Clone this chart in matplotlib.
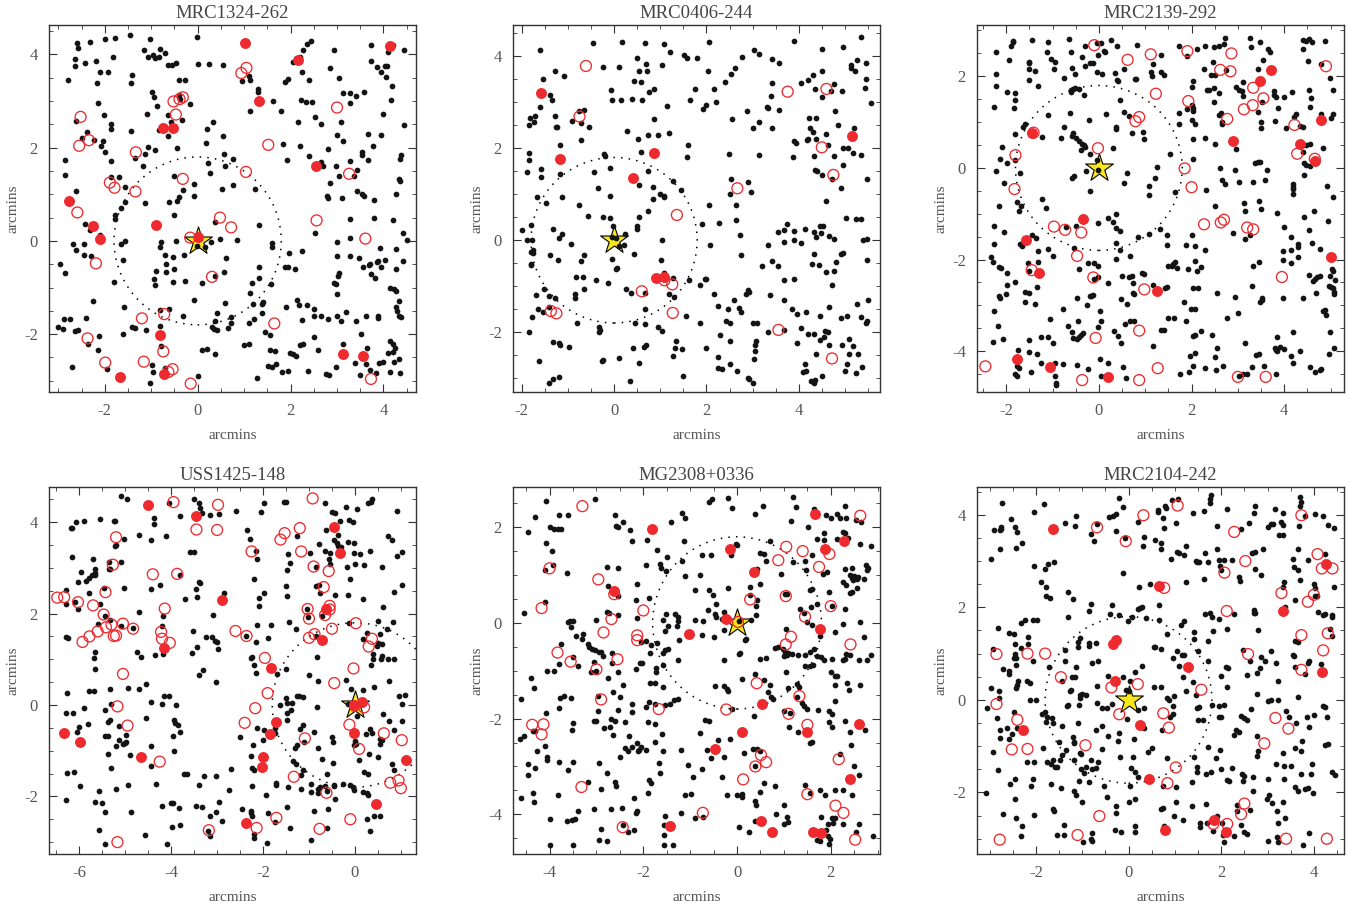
import matplotlib
matplotlib.use("Agg")
import matplotlib.pyplot as plt
from matplotlib.ticker import MultipleLocator

plt.rcParams['font.family'] = ['Liberation Serif', 'DejaVu Serif']
plt.rcParams['axes.unicode_minus'] = False

# values, in arcmins
names = ['MRC1324-262', 'MRC0406-244', 'MRC2139-292', 'USS1425-148', 'MG2308+0336', 'MRC2104-242']

p1_black = [(-2.6,4.25),(-2.57,4.14),(-2.32,4.27),(-1.99,4.32),(-1.78,4.36),(-1.45,4.42),(-1.03,4.32),(-0.02,4.38),
 (-2.64,3.91),(-2.63,3.75),(-2.42,3.82),(-2.19,3.85),(-1.83,3.95),(-1.16,4.1),(-0.8,4.11),(-0.7,4.04),(-1.06,3.94),(-0.97,3.98),(-0.92,3.93),(-0.84,3.94),
 (-0.64,3.78),(-0.55,3.77),(-0.47,3.81),(0,3.8),(0.25,3.79),(0.55,3.77),(-2.1,3.62),(-1.93,3.63),(-2.79,3.46),(-2.16,3.39),(-1.41,3.56),(-1.43,3.39),(-0.4,3.46),(-0.27,3.46),
 (-0.98,3.2),(-0.95,3.09),(-2.15,2.96),(-0.87,2.89),(-0.4,3.13),(-0.38,3.04),(-0.16,2.94),(-2.02,2.7),(-1.08,2.73),(-0.63,2.71),(-0.34,2.59),(-0.57,2.56),(0.34,2.56),(-1.86,2.51),(-1.86,2.41),(-2.62,2.58),
 (-1.44,2.36),(-0.83,2.38),(-0.64,2.24),(0.2,2.4),(0.54,2.26),(0.17,2.11),(-2.39,2.34),(-2.48,2.21),(-2.24,2.16),(-2.04,2.15),(-2.07,2.04),(-2.0,1.91),(-1.06,2.01),(-1.13,1.86),(-0.92,1.94),(-0.45,1.99),
 (-1.35,1.77),(-2.85,1.73),(-1.86,1.71),(-1.18,1.61),(0.23,1.66),(0.57,1.86),(0.75,1.75),(0.59,1.6),(0.27,1.46),(-2.85,1.41),(-1.86,1.38),(-1.7,1.37),(-0.5,1.39),(-0.08,1.23),(-0.31,1.1),(-1.57,1.15),
 (-2.61,1.06),(0.53,1.11),(0.75,1.19),(1.23,1.11),(-0.08,0.96),(-0.4,0.94),(-0.45,0.86),(-0.62,0.84),(-1.56,0.84),(-1.13,0.81),(-1.64,0.7),(-1.78,0.55),(-1.78,0.46),(-0.5,0.56),(0.37,0.4),(1.33,0.34),
 (-2.42,0.36),(-2.31,0.24),(-2.1,0.12),(-0.79,-0.03),(-0.46,0.0),(-1.66,-0.07),(-1.57,0.0),(-2.69,-0.07),(-2.62,-0.19),(-2.44,-0.07),(-2.45,-0.3),(-2.29,-0.32),(-0.8,-0.14),(-0.7,-0.3),(-0.53,-0.34),(-0.3,-0.3),
 (-0.02,-0.1),(0.15,-0.13),(0.29,-0.02),(0.48,0.04),(0.85,0.01),(0.62,-0.36),(1.61,-0.05),(1.61,-0.14),(1.96,-0.26),(2.24,-0.22),(-1.6,-0.42),(-0.68,-0.49),(-2.97,-0.5),(-2.86,-0.69),(-0.9,-0.64),(-0.68,-0.66),(-0.52,-0.61),
 (0.57,-0.67),(0.38,-0.75),(1.31,-0.57),(1.89,-0.56),(2.09,-0.61),(-0.93,-0.81),(-0.91,-0.94),(-1.8,-0.89),(-0.54,-0.89),(-0.27,-0.87),(0.1,-0.91),(1.32,-0.79),(1.18,-0.9),(1.57,-0.93),(1.13,-1.11),(-2.25,-1.29),
 (-0.08,-1.27),(-1.58,-1.41),(0.58,-1.34),(1.41,-1.3),(1.2,-1.36),(1.39,-1.35),(2.13,-1.26),(2.18,-1.37),(2.36,-1.38),(1.9,-1.41),(-0.81,-1.49),(-0.61,-1.45),(-0.31,-1.62),(0.42,-1.55),(1.39,-1.55),(2.5,-1.46),
 (-2.4,-1.66),(-2.87,-1.67),(-2.74,-1.67),(0.72,-1.63),(1.21,-1.68),(2.24,-1.69),(2.5,-1.62),(2.66,-1.62),(2.81,-1.67),(3.0,-1.6),(3.08,-1.71),(3.2,-1.53),(3.4,-1.72),(3.62,-1.6),(3.89,-1.65),(3.89,-1.6),
 (0.37,-1.72),(0.72,-1.76),(1.1,-1.75),(0.66,-1.87),(0.3,-1.85),(0.35,-1.89),(0.42,-1.92),(-3.01,-1.84),(-2.9,-1.88),(-2.63,-1.93),(-2.57,-1.91),(-1.41,-1.85),(-1.35,-1.87),(-1.11,-1.9),(-0.81,-1.83),(-1.61,-2.0),
 (-2.13,-2.03),(1.46,-1.96),(1.55,-2.02),(2.5,-2.07),(3.51,-2.0),(-2.36,-2.21),(-2.15,-2.34),(-0.78,-2.25),(0.1,-2.33),(0.2,-2.31),(1.0,-2.23),(1.1,-2.2),(0.38,-2.43),(1.55,-2.33),(1.67,-2.36),(2.2,-2.23),(2.26,-2.22),
 (2.59,-2.35),(1.98,-2.41),(2.05,-2.43),(2.12,-2.47),(3.12,-2.22),(3.65,-2.3),(4.14,-2.14),(4.2,-2.21),(4.25,-2.3),(4.2,-2.38),(4.1,-2.4),(3.39,-2.62),(3.63,-2.63),(3.9,-2.62),(3.98,-2.6),(4.22,-2.6),(4.34,-2.53),
 (-0.98,-2.66),(-2.7,-2.71),(-1.95,-2.74),(-0.97,-2.82),(-0.7,-2.73),(-1.02,-3.05),(0,-2.9),(1.52,-2.69),(1.6,-2.7),(1.68,-2.65),(1.81,-2.81),(1.95,-2.78),(2.38,-2.8),(1.27,-2.94),(2.77,-2.85),(2.82,-2.88),
 (2.98,-2.7),(3.5,-2.88),(3.72,-2.77),(3.83,-2.83),(4.15,-2.82),(4.35,-2.83),(1.94,-0.56),(4.15,-1.0),(4.22,-1.04),(4.28,-1.08),(4.34,-1.28),(4.27,-1.41),(4.3,-1.5),(4.33,-1.6),(4.37,-1.63),(4.28,-0.61),(4.43,-0.44),
 (2.94,-0.9),(2.98,-0.93),(3.0,-1.14),(3.03,-0.75),(3.05,-0.68),(3.0,-0.33),(3.28,-0.33),(3.47,-0.37),(3.56,-0.56),(3.68,-0.51),(3.71,-0.49),(3.73,-0.72),(3.82,-0.79),(3.85,-0.46),(3.89,-0.43),(3.95,-0.55),(4.03,-0.41),
 (3.93,-0.15),(4.27,-0.18),(3.0,-0.03),(3.27,0.06),(2.52,0.18),(3.27,0.48),(3.8,0.49),(4.21,0.44),(4.42,0.16),(4.51,0.02),(2.79,0.96),(2.8,0.92),(3.1,0.92),(3.42,1.06),(3.53,1.0),(3.57,0.96),(3.8,0.88),(4.27,1.0),
 (2.85,1.25),(4.33,1.32),(4.35,1.28),(2.97,1.6),(3.05,1.39),(3.37,1.4),(3.42,1.51),(2.66,1.69),(2.7,1.6),(3.27,1.72),(3.66,1.74),(4.38,1.84),(4.36,1.75),(2.81,1.98),(3.53,1.9),(3.54,1.85),(3.77,2.04),(2.4,1.83),(1.93,1.73),
 (1.84,2.07),(2.2,2.03),(3.0,2.27),(3.13,2.15),(3.67,2.29),(3.95,2.28),(4.44,2.49),(2.15,2.55),(2.66,2.5),(3.09,2.55),(2.52,2.66),(4.0,2.72),(1.8,2.78),(3.27,2.96),(4.16,3.03),(2.22,3.03),(2.33,2.97),(2.47,2.97),(1.63,3.0),
 (1.12,2.78),(1.3,2.98),(1.29,3.2),(1.3,3.25),(3.12,3.17),(3.27,3.17),(3.4,3.11),(3.57,3.2),(4.18,3.33),(1.87,3.4),(1.95,3.47),(2.4,3.45),(1.1,3.53),(1.13,3.46),(0.95,3.43),(3.04,3.49),(2.24,3.62),(2.85,3.71),(3.74,3.85),(3.87,3.74),
 (4.04,3.76),(4.08,3.75),(3.95,3.63),(4.06,3.52),(2.05,3.84),(2.2,3.95),(2.27,4.1),(2.35,4.22),(2.45,4.28),(2.93,4.1),(3.73,4.21),(4.1,4.05),(4.2,4.2),(4.44,4.1)]
p1_open = [(-2.52,2.66),(-2.34,2.16),(-2.55,2.04),(-1.33,1.9),(-1.89,1.25),(-1.79,1.14),(-1.34,1.06),(-2.59,0.61),(-2.19,-0.48),(-1.2,-1.66),(-0.72,-1.57),(-2.37,-2.09),(-1.99,-2.61),(-1.16,-2.59),(-0.74,-2.37),(-0.54,-2.75),(-0.63,-2.81),(-0.15,-3.06),(3.73,-2.96),(1.65,-1.77),(0.31,-0.77),(0.48,0.5),(0.72,0.29),(-0.16,0.07),(-0.32,1.33),(1.04,1.48),(1.52,2.06),(2.56,0.44),(3.61,0.05),(3.26,1.44),(3.0,2.86),(0.94,3.6),(1.05,3.71),(-0.52,2.99),(-0.39,3.04),(-0.32,3.08),(-0.47,2.71)]
p1_red = [(1.02,4.24),(2.15,3.89),(4.14,4.19),(1.33,3.01),(-0.75,2.43),(-0.54,2.43),(2.54,1.61),(-2.77,0.85),(-2.26,0.33),(-2.11,0.05),(-0.9,0.35),(0,0.08),(-0.82,-2.02),(-1.67,-2.91),(-0.72,-2.85),(3.13,-2.43),(3.56,-2.46)]

p2_black = [(-0.45,4.28),(0.17,4.31),(0.67,4.28),(1.08,4.27),(1.21,4.09),(2.06,4.3),(3.89,4.33),(5.35,4.42),(-1.6,4.14),(3.03,4.13),(3.13,4.06),(4.5,4.16),(4.95,4.2),(1.52,4.03),(1.57,3.97),(1.8,3.97),(2.77,3.98),(3.42,3.94),(3.58,3.85),(0.5,3.97),(0.7,3.84),(1.04,3.82),(5.27,3.91),(5.45,3.86),(5.14,3.81),(5.14,3.75),
 (-0.25,3.76),(0.11,3.76),(0.53,3.68),(0.72,3.69),(2.03,3.68),(2.62,3.75),(2.53,3.62),(-1.29,3.68),(-1.09,3.57),(4.5,3.67),(5.22,3.69),(4.3,3.6),(4.2,3.49),(-1.55,3.5),(0.43,3.46),(0.58,3.43),(2.41,3.44),(3.43,3.42),(4.05,3.41),(4.77,3.39),(5.45,3.5),(0.76,3.23),(0.86,3.28),(-0.06,3.27),(1.75,3.29),(2.17,3.29),(4.35,3.29),(4.7,3.24),(4.94,3.25),(5.43,3.3),
 (-1.39,3.16),(-1.35,3.06),(-0.05,3.05),(0.14,3.06),(0.38,3.08),(0.6,3.06),(1.65,3.06),(2.2,3.0),(3.39,3.14),(4.5,3.12),(5.57,2.98),(-1.6,2.9),(1.14,2.92),(1.93,2.86),(1.98,2.93),(3.32,2.9),(3.33,2.87),(3.57,2.83),(2.88,2.81),(4.78,2.82),(-0.65,2.84),(-0.77,2.8),
 (-1.83,2.66),(-1.71,2.7),(-1.74,2.57),(-1.27,2.71),(-0.92,2.6),(-0.72,2.55),(0.86,2.64),(2.55,2.64),(4.22,2.65),(4.37,2.65),(3.14,2.58),(-1.84,2.5),(-1.26,2.47),(-1.23,2.46),(-0.54,2.47),(3.0,2.45),(3.42,2.45),(4.25,2.43),(4.3,2.36),(4.85,2.51),(5.2,2.43),
 (0.27,2.37),(1.2,2.34),(0.74,2.28),(0.95,2.28),(0.51,2.21),(-0.72,2.18),(4.19,2.2),(4.17,2.17),(4.37,2.2),(4.6,2.3),(3.9,2.15),(3.95,2.11),(-1.17,2.08),(1.6,2.08),(4.64,2.07),(4.95,2.0),(5.07,2.01),(-1.84,1.9),(-0.21,1.88),(0.59,1.92),(2.49,1.88),(3.13,1.85),(5.18,1.89),(5.35,1.85),(-1.84,1.74),(1.57,1.8),(3.88,1.8),(4.33,1.83),(4.77,1.83),
 (-0.2,1.83),(-0.09,1.58),(-1.88,1.49),(-1.58,1.54),(-0.43,1.49),(0.74,1.5),(-1.18,1.43),(4.35,1.52),(4.4,1.5),(4.5,1.41),(4.95,1.63),(-1.59,1.37),(5.48,1.34),(4.72,1.33),(2.53,1.33),(1.28,1.28),(2.9,1.27),(0.55,1.21),(0.85,1.16),(-0.35,1.13),(1.46,1.1),(4.92,1.14),(0.99,1.01),(1.08,0.97),(1.08,0.94),(2.52,1.01),(2.96,1.05),(-0.09,0.96),(-1.68,0.93),(-1.13,0.93),(0.85,0.9),(4.58,0.86),(-1.48,0.8),(-0.77,0.76),(2.06,0.76),(2.64,0.76),(0.73,0.64),
 (-0.56,0.53),(-0.23,0.5),(-0.08,0.49),(0.54,0.5),(5.03,0.49),(5.24,0.46),(5.35,0.47),(2.64,0.43),(1.91,0.36),(2.28,0.38),(3.74,0.35),(4.47,0.32),(4.53,0.32),(-1.8,0.33),(-0.03,0.31),(0.5,0.32),(0.5,0.24),(-1.32,0.24),(-2.0,0.22),(3.68,0.23),(3.56,0.18),(3.89,0.2),(4.13,0.25),(4.33,0.18),(4.48,0.16),(-1.13,0.14),(0.23,0.14),
 (2.72,0.11),(4.38,0.07),(4.65,0.1),(-1.88,0.0),(-1.78,0.0),(-1.2,0.05),(-0.05,0.07),(0.05,0.05),(1.04,0.0),(3.68,-0.03),(3.89,0.0),(4.04,-0.07),(4.76,0.02),(5.4,0.01),(5.48,0.03),(-0.93,-0.08),(0.1,-0.12),(0.22,-0.11),(2.07,-0.1),(3.34,-0.1),(-1.8,-0.25),(-1.76,-0.22),(-1.75,-0.28),(-1.39,-0.32),(-0.65,-0.33),(0.43,-0.31),(2.75,-0.33),(4.33,-0.3),(4.92,-0.29),(4.95,-0.28),
 (-1.21,-0.43),(-0.71,-0.45),(-0.04,-0.41),(1.01,-0.43),(5.48,-0.42),(3.43,-0.45),(-1.8,-0.51),(-1.79,-0.53),(3.2,-0.56),(3.54,-0.56),(4.28,-0.52),(4.44,-0.53),(4.8,-0.48),(0.07,-0.6),(0.05,-0.63),(1.08,-0.75),(1.08,-0.72),(4.6,-0.68),(4.76,-0.67),(-0.82,-0.8),(-0.67,-0.8),(-0.39,-0.87),(1.28,-0.82),(1.63,-0.86),(1.97,-0.85),(2.0,-0.85),(3.9,-0.84),(3.67,-0.87),
 (-0.14,-0.94),(1.87,-0.98),(4.72,-0.98),(-1.52,-1.05),(-0.66,-1.06),(0.26,-1.07),(0.37,-1.15),(0.68,-1.14),(-1.69,-1.19),(-0.84,-1.17),(-0.85,-1.26),(1.18,-1.17),(1.3,-1.23),(2.17,-1.16),(2.9,-1.08),(2.85,-1.17),(2.92,-1.12),(3.38,-1.19),(-1.4,-1.21),(-1.27,-1.25),(2.6,-1.31),(3.68,-1.3),(3.85,-1.5),(5.5,-1.3),(5.27,-1.39),(-1.64,-1.5),(-1.55,-1.56),(-1.4,-1.45),(0.67,-1.5),(2.25,-1.42),(2.47,-1.5),(2.7,-1.47),(2.75,-1.57),(4.15,-1.57),(4.65,-1.46),
 (-1.78,-1.67),(1.55,-1.64),(3.97,-1.61),(4.45,-1.64),(2.43,-1.75),(2.5,-1.8),(4.92,-1.7),(5.05,-1.65),(5.34,-1.68),(5.45,-1.79),(5.48,-1.75),(-0.81,-1.8),(0.45,-1.8),(0.66,-1.82),(1.87,-1.81),(3.0,-1.79),(3.1,-1.79),(-0.33,-1.88),(-0.31,-1.95),(-0.33,-2.0),(0.95,-1.89),(1.03,-1.98),(4.04,-1.9),(3.68,-1.95),(-1.84,-1.99),(3.33,-2.0),(4.2,-2.03),(4.33,-2.04),(4.57,-1.98),(4.63,-2.0),
 (2.3,-2.06),(4.45,-2.17),(4.55,-2.1),(5.08,-2.15),(-1.33,-2.22),(-1.2,-2.23),(-1.17,-2.28),(-0.98,-2.33),(0.69,-2.27),(0.65,-2.33),(1.35,-2.2),(2.5,-2.2),(3.08,-2.2),(3.05,-2.27),(3.97,-2.24),(1.33,-2.35),(1.47,-2.36),(2.0,-2.35),(0.4,-2.35),(4.65,-2.28),(4.93,-2.28),(5.17,-2.29),(3.05,-2.41),(-1.63,-2.63),(-0.27,-2.63),(-0.24,-2.6),(0.1,-2.56),(1.27,-2.52),(2.25,-2.54),(3.03,-2.59),(4.37,-2.48),(5.08,-2.47),(5.28,-2.48),
 (0.55,-2.67),(2.5,-2.7),(4.13,-2.7),(5.05,-2.7),(5.37,-2.75),(2.25,-2.78),(2.33,-2.8),(4.15,-2.84),(4.1,-2.87),(5.0,-2.85),(2.67,-2.85),(5.23,-2.88),(-1.2,-2.97),(1.5,-2.95),(2.9,-3.0),(-1.33,-3.02),(0.35,-3.06),(-1.4,-3.1),(2.92,-3.02),(3.0,-3.1),(4.27,-3.05),(4.33,-3.1),(4.35,-3.03),(4.5,-2.95)]
p2_open = [(-0.61,3.79),(-0.75,2.69),(3.76,3.23),(4.6,3.29),(4.5,2.02),(4.75,1.42),(2.67,1.13),(1.36,0.55),(1.09,-0.87),(1.26,-0.96),(0.6,-1.11),(1.27,-1.58),(-1.37,-1.54),(-1.25,-1.59),(3.56,-1.95),(4.72,-2.57)]
p2_red = [(-1.58,3.2),(-1.18,1.77),(0.86,1.9),(0.42,1.35),(0.9,-0.83),(1.08,-0.8),(5.16,2.27)]

p3_black = [(-0.65,2.82),(-0.05,2.72),(0.04,2.72),(0.26,2.8),(0.4,2.67),(0.82,2.68),(1.73,2.66),(2.3,2.67),(2.49,2.65),(2.6,2.67),(2.7,2.7),(2.73,2.83),(3.26,2.84),(3.48,2.75),(3.28,2.63),(3.65,2.6),(3.7,2.54),(4.4,2.8),(4.47,2.76),(4.53,2.82),(4.6,2.75),(4.87,2.77),
 (-1.89,2.67),(-1.86,2.74),(-1.85,2.77),(-1.45,2.79),(-1.09,2.75),(-0.31,2.67),(-2.23,2.52),(-1.11,2.52),(-0.61,2.54),(0.1,2.55),(0.14,2.52),(-0.02,2.46),(1.35,2.46),(1.9,2.45),(2.12,2.59),(4.4,2.6),(4.52,2.33),(2.47,2.32),(3.55,2.35),(-1.95,2.36),(-1.03,2.38),(-0.95,2.32),(-0.37,2.42),(-0.2,2.28),(-0.13,2.28),(1.17,2.26),(1.12,2.1),
 (-1.51,2.32),(-1.51,2.28),(-1.51,2.17),(-1.38,2.11),(-0.96,2.17),(-0.58,2.18),(-0.3,2.22),(-0.51,2.05),(-0.04,2.1),(0.07,2.05),(0.34,2.08),(0.55,2.17),(1.15,2.0),(1.33,2.1),(1.4,2.03),(2.27,2.15),(2.42,2.02),(2.5,2.03),(3.43,2.15),(2.75,2.13),(4.8,2.27),
 (-2.23,2.06),(-0.76,1.97),(-1.51,1.93),(0.8,1.95),(0.78,1.94),(0.39,1.92),(0.42,1.9),(2.03,1.9),(4.98,1.97),(-2.22,1.78),(-1.32,1.79),(-0.55,1.73),(-0.6,1.71),(-0.52,1.75),(-0.43,1.72),(2.0,1.76),(2.33,1.71),(2.37,1.71),(2.48,1.75),(2.6,1.64),(2.97,1.77),(3.02,1.71),(3.08,1.69),(3.12,1.87),(5.05,1.7),
 (-1.98,1.65),(-1.82,1.64),(-0.6,1.65),(-0.33,1.6),(3.1,1.57),(3.78,1.6),(3.82,1.54),(3.77,1.68),(4.0,1.54),(4.17,1.65),(4.53,1.7),(4.57,1.53),(-1.8,1.49),(0.46,1.48),(2.48,1.45),(3.52,1.45),(-2.26,1.33),(-1.83,1.3),(1.9,1.28),(2.02,1.37),(2.03,1.3),(2.03,1.25),(3.87,1.3),(4.55,1.32),(0.54,1.23),(-0.63,1.19),(-1.1,1.16),(0.15,1.18),(1.72,1.2),(2.6,1.16),(2.63,1.2),(3.43,1.22),(4.25,1.18),(4.22,1.12),(4.8,1.17),(5.05,1.18),(5.0,1.08),
 (0.66,1.13),(-0.22,1.04),(2.02,1.05),(3.5,1.0),(3.8,1.03),(-1.6,0.95),(-1.63,0.9),(-0.75,0.9),(0.37,0.9),(0.38,0.84),(1.72,0.96),(2.07,0.95),(2.65,1.0),(2.65,0.95),(3.5,0.87),(4.03,0.87),(4.4,0.9),(4.35,0.91),(-1.81,0.74),(-0.56,0.76),(-0.57,0.7),(-0.5,0.65),(0.72,0.77),(0.95,0.78),(-1.22,0.67),(-0.82,0.65),(-0.43,0.58),(2.03,0.64),(2.3,0.66),(0.97,0.63),(-0.37,0.53),(-0.33,0.5),(-0.31,0.45),(2.5,0.52),(4.48,0.51),(4.55,0.53),
 (-2.1,0.45),(-0.38,0.39),(0.31,0.43),(2.95,0.42),(4.4,0.35),(4.84,0.43),(-0.2,0.3),(1.53,0.31),(-2.13,0.19),(-1.8,0.17),(-0.03,0.18),(2.03,0.2),(-1.98,0.1),(3.37,0.1),(3.43,0.12),(3.47,0.13),(4.43,0.1),(4.47,0.06),(4.55,0.04),(-2.23,-0.07),(-0.28,-0.07),(-0.02,-0.05),(1.25,0.02),(2.62,0.0),(2.93,-0.05),(3.62,-0.04),(4.43,-0.15),(-1.7,-0.11),(-0.53,-0.17),(-0.58,-0.23),(0.6,-0.1),(1.22,-0.22),(2.65,-0.27),(2.72,-0.35),(3.02,-0.3),(3.33,-0.3),(3.58,-0.26),
 (-2.04,-0.32),(0.55,-0.32),(4.2,-0.36),(4.2,-0.41),(4.2,-0.45),(1.08,-0.4),(-0.2,-0.5),(1.65,-0.53),(2.32,-0.49),(4.2,-0.57),(4.93,-0.4),(5.05,-0.64),(-1.76,-0.75),(-1.67,-0.83),(-1.22,-0.68),(-2.15,-0.82),(1.08,-0.6),(3.46,-0.72),(3.13,-0.77),(-1.73,-0.95),(-1.14,-0.87),(2.5,-0.84),(3.5,-0.9),(3.15,-0.93),(3.85,-0.98),(4.65,-0.94),(0.36,-1.0),(0.19,-1.1),(0.3,-1.17),
 (-0.02,-1.2),(4.43,-1.07),(4.95,-1.15),(-2.27,-1.27),(-2.05,-1.4),(-0.5,-1.26),(0.38,-1.3),(0.45,-1.38),(1.32,-1.33),(3.99,-1.28),(4.53,-1.35),(2.9,-1.41),(-1.45,-1.46),(-1.35,-1.53),(-0.72,-1.28),(0.85,-1.5),(1.08,-1.45),(1.47,-1.47),(2.0,-1.47),(3.27,-1.47),(3.15,-1.56),(4.15,-1.5),(-2.27,-1.67),(-1.7,-1.65),(-1.65,-1.7),(0.36,-1.63),(1.46,-1.68),(1.88,-1.68),(2.07,-1.7),(4.3,-1.65),(4.6,-1.63),
 (-1.1,-1.76),(-0.53,-1.74),(0.45,-1.8),(2.3,-1.78),(3.97,-1.82),(4.14,-1.78),(4.3,-1.73),(4.77,-1.76),(-1.31,-1.82),(-2.33,-1.95),(-1.0,-1.92),(0.68,-1.93),(0.36,-1.98),(-2.28,-2.05),(-1.53,-2.08),(-1.32,-2.05),(-0.23,-2.07),(-0.11,-2.07),(-0.02,-2.14),(1.65,-2.05),(1.6,-2.1),(1.68,-2.18),(1.57,-2.14),(1.5,-2.15),(2.07,-2.02),(3.45,-2.05),(3.98,-2.0),(4.3,-1.95),(4.15,-2.08),
 (-2.16,-2.17),(-2.12,-2.18),(-1.5,-2.24),(-0.42,-2.2),(1.93,-2.21),(2.2,-2.17),(2.12,-2.25),(3.33,-2.15),(5.03,-2.2),(5.06,-2.24),(-1.98,-2.3),(0.49,-2.35),(0.65,-2.37),(0.72,-2.35),(0.93,-2.29),(0.98,-2.31),(4.53,-2.34),(4.7,-2.38),(4.77,-2.36),(4.67,-2.42),(4.63,-2.46),(4.98,-2.36),(5.1,-2.45),
 (-0.02,-2.38),(-0.1,-2.43),(0.2,-2.51),(-1.82,-2.49),(-1.99,-2.55),(-1.34,-2.6),(0.73,-2.51),(1.17,-2.55),(1.48,-2.6),(1.42,-2.63),(2.03,-2.62),(2.13,-2.62),(3.3,-2.57),(5.0,-2.6),(4.97,-2.57),(5.06,-2.63),(-2.0,-2.76),(-2.13,-2.83),(-2.15,-2.8),(-1.6,-2.7),(-1.5,-2.74),(0.73,-2.72),(0.75,-2.75),(2.55,-2.74),(4.68,-2.73),(5.07,-2.7),(5.08,-2.76),
 (-0.47,-2.84),(-0.2,-2.79),(-0.16,-2.8),(-0.13,-2.78),(0.48,-2.87),(2.93,-2.82),(3.53,-2.83),(3.47,-2.93),(3.53,-2.88),(3.97,-2.83),(4.4,-2.83),(-1.6,-2.92),(-1.38,-2.98),(-0.26,-3.0),(0.6,-2.97),(1.83,-2.92),(-2.27,-3.12),(-0.77,-3.07),(0.02,-3.13),(1.98,-3.07),(2.07,-3.08),(3.0,-3.17),(4.83,-3.12),(4.88,-3.1),(4.9,-3.2),
 (-2.17,-3.45),(-1.06,-3.29),(-0.67,-3.45),(-0.44,-3.35),(0.05,-3.35),(0.56,-3.4),(0.68,-3.34),(0.75,-3.34),(1.5,-3.28),(1.62,-3.28),(1.87,-3.33),(2.77,-3.28),(-0.02,-3.47),(1.33,-3.54),(1.4,-3.53),(-0.58,-3.57),(2.2,-3.56),(4.18,-3.58),(4.98,-3.59),(-0.35,-3.6),(-0.38,-3.64),(-0.42,-3.68),(-0.47,-3.74),(-0.55,-3.72),(0.32,-3.56),(0.42,-3.67),(0.48,-3.82),(2.03,-3.67),(2.07,-3.64),(2.45,-3.65),
 (-1.24,-3.68),(-1.1,-3.7),(-1.0,-3.82),(-2.29,-3.8),(-2.07,-3.74),(-1.5,-3.75),(1.17,-3.89),(3.85,-3.7),(3.15,-3.82),(3.8,-3.92),(3.9,-3.91),(3.82,-3.97),(4.0,-3.95),(5.07,-3.92),(-1.75,-3.98),(-1.5,-4.02),(-1.34,-4.05),(2.07,-4.03),(1.97,-4.1),(2.55,-3.93),(3.4,-4.08),(3.45,-4.05),(4.33,-4.0),(4.97,-4.07),(3.85,-4.0),(4.15,-4.1),
 (-1.76,-4.33),(-1.72,-4.37),(-1.25,-4.25),(-0.95,-4.25),(-0.77,-4.28),(-0.47,-4.3),(-0.23,-4.38),(0.03,-4.17),(0.2,-4.26),(0.52,-4.35),(2.03,-4.32),(2.3,-4.36),(2.5,-4.12),(2.53,-4.4),(2.67,-4.33),(3.12,-4.5),(3.2,-4.5),(3.3,-4.34),(3.57,-4.32),(4.2,-4.26),(4.55,-4.34),(4.67,-4.45),(4.8,-4.38),(4.78,-4.4),
 (-1.8,-4.5),(-1.76,-4.53),(-1.46,-4.45),(-0.95,-4.53),(-0.92,-4.7),(-0.92,-4.74),(0.05,-4.55),(0.58,-4.58),(1.75,-4.5),(1.95,-4.46),(3.03,-4.55),(3.83,-4.5)]
p3_open = [(-0.1,2.68),(0.62,2.36),(1.12,2.48),(1.91,2.55),(2.86,2.5),(2.62,2.14),(2.84,2.11),(4.9,2.22),(1.23,1.62),(3.33,1.75),(3.55,1.52),(1.93,1.46),(3.32,1.37),(3.13,1.28),(0.87,1.11),(0.79,1.02),(2.77,1.07),(4.22,0.94),(-1.41,0.77),(-0.02,0.43),(-1.8,0.28),(4.28,0.31),(4.66,0.2),(1.85,-0.01),(-1.82,-0.46),(2.0,-0.42),(-0.97,-1.28),(-0.73,-1.35),(-0.38,-1.41),(2.27,-1.23),(2.63,-1.19),(2.7,-1.13),(3.2,-1.3),(3.33,-1.34),(-0.47,-1.92),(-1.45,-2.23),(-0.12,-2.39),(3.95,-2.38),(0.98,-2.65),(0.87,-3.55),(-0.07,-3.71),(1.27,-4.37),(-2.45,-4.33),(-0.36,-4.63),(0.87,-4.63),(3.0,-4.56),(3.6,-4.56)]
p3_red = [(3.48,1.9),(3.71,2.13),(4.8,1.04),(-1.45,0.77),(2.9,0.59),(4.33,0.52),(4.67,0.15),(-0.35,-1.12),(-1.58,-1.57),(-1.3,-2.29),(1.25,-2.69),(5.0,-1.95),(-1.77,-4.17),(-1.05,-4.34),(0.2,-4.56)]

p4_black = [(-5.1,4.58),(-4.97,4.5),(-3.5,4.5),(-3.4,4.42),(-3.37,4.3),(-3.33,4.2),(-4.05,4.42),(-1.98,4.42),(-2.04,4.22),(-1.55,4.45),(-1.5,4.44),(-0.65,4.42),(0.34,4.45),(0.37,4.5),(0.28,4.42),(-3.15,4.15),(-2.95,4.18),(-2.59,4.25),(-0.2,4.33),(0.05,4.28),(-0.5,4.22),(-0.43,4.2),(0.92,4.24),
 (-4.37,4.1),(-3.8,4.13),(-5.9,4.02),(-6.08,4.0),(-6.15,3.88),(-6.18,3.87),(-5.55,4.06),(-5.25,4.03),(-5.23,4.02),(-4.38,3.97),(-0.33,4.03),(-0.13,4.05),(-0.05,4.0),(-4.7,3.72),(-4.12,3.7),(-2.35,3.82),(-1.26,3.69),(-0.62,3.83),(-0.46,3.85),(-0.37,3.72),(-0.45,3.6),(-0.4,3.55),(-0.37,3.47),(-0.3,3.45),(-0.15,3.56),(-0.02,3.55),(-4.43,3.62),(-5.03,3.63),(-5.2,3.5),(-5.22,3.47),(-2.28,3.63),
 (-0.78,3.53),(0.72,3.7),(0.8,3.62),(-3.6,3.35),(-3.5,3.35),(-2.16,3.38),(-1.45,3.3),(-0.98,3.33),(-0.65,3.38),(-0.55,3.33),(-0.03,3.33),(0.12,3.3),(0.32,3.38),(0.92,3.26),(1.03,3.35),(-6.15,3.23),(-5.7,3.2),(-2.14,3.2),(-0.57,3.2),(-5.35,3.12),(-5.1,3.13),(-1.42,3.1),(-0.85,3.03),(-0.55,3.08),(0.0,3.08),(0.2,3.07),(-0.18,3.03),(0.6,3.02),
 (-5.35,2.98),(-5.33,2.97),(-5.65,2.97),(-5.65,2.89),(-5.73,2.85),(-5.65,2.85),(-5.97,2.91),(-6.03,2.7),(-5.85,2.72),(-5.8,2.77),(-1.47,2.96),(-3.8,2.85),(-2.2,2.75),(-0.1,2.75),(-3.4,2.7),(-3.37,2.68),(-4.45,2.53),(-4.25,2.63),(-1.5,2.6),(-5.47,2.57),(-5.03,2.56),(-6.28,2.52),(-3.47,2.54),(-0.85,2.6),(-0.78,2.62),(-0.75,2.46),(-2.85,2.44),(1.03,2.63),(0.85,2.47),
 (-5.8,2.45),(-1.98,2.46),(-1.47,2.38),(-3.43,2.36),(-2.08,2.34),(-0.43,2.41),(-0.14,2.41),(0.17,2.32),(-3.69,2.31),(-6.3,2.2),(-6.1,2.25),(-6.03,2.09),(-5.55,2.2),(-2.08,2.17),(-1.05,2.1),(0.62,2.14),(-4.7,2.03),(-5.45,1.95),(-4.18,1.94),(-3.1,1.96),(-0.72,1.94),(-1.02,1.92),(-5.33,1.87),(-5.6,1.78),(-1.43,1.81),(-0.12,1.8),(0.82,1.82),(0.5,1.84),(-2.13,1.75),(-1.82,1.75),
 (-5.1,1.72),(-4.2,1.73),(-4.83,1.68),(-1.28,1.67),(0.7,1.66),(-3.52,1.63),(0.27,1.57),(0.54,1.55),(-3.25,1.48),(-3.12,1.48),(-3.05,1.4),(-3.0,1.38),(-6.3,1.48),(-6.25,1.47),(-2.37,1.5),(-1.9,1.46),(-0.85,1.52),(-2.15,1.37),(0.17,1.44),(0.5,1.35),(0.6,1.33),(0.48,1.3),(-2.97,1.22),(-3.43,1.26),(-3.55,1.14),(-5.65,1.15),(-5.67,1.03),(-4.75,1.15),(-4.65,1.05),
 (-4.35,1.1),(-4.18,1.11),(0.4,1.12),(0.4,1.0),(0.6,1.08),(0.57,1.0),(0.72,1.0),(0.85,1.0),(-2.27,1.03),(-2.25,1.06),(-0.83,1.06),(0.36,0.87),(-2.2,0.87),(-1.5,0.79),(-5.65,0.79),(-3.31,0.76),(-2.15,0.7),(-1.7,0.67),(-3.4,0.65),(-1.0,0.66),(-3.03,0.5),(0.75,0.52),(-0.2,0.54),(-0.8,0.52),(-4.55,0.47),(-4.95,0.38),(-4.7,0.34),(-5.33,0.34),(-5.8,0.3),(-5.67,0.3),(-6.27,0.27),(0.42,0.4),(-0.08,0.35),(0.17,0.32),
 (-4.15,0.2),(-4.05,0.2),(-1.5,0.16),(-1.27,0.2),(-1.21,0.19),(-1.13,0.18),(1.1,0.22),(0.95,0.2),(-1.48,0.05),(-1.38,0.05),(-5.3,0.02),(-4.45,0.07),(-4.2,0.02),(-3.9,0.0),(-1.63,0.0),(-0.83,-0.04),(-0.15,0.02),(0.12,0.05),(1.02,0.02),(0.62,-0.19),(-5.9,-0.07),(-5.45,-0.12),(-1.4,-0.1),(-1.48,-0.17),(-6.3,-0.17),(-6.13,-0.17),(-4.55,-0.28),(0.05,-0.25),(0.75,-0.35),(1.02,-0.36),
 (-5.33,-0.33),(-5.37,-0.38),(-3.93,-0.32),(-3.92,-0.4),(-3.85,-0.44),(-5.82,-0.42),(-5.14,-0.46),(-6.0,-0.48),(-1.48,-0.33),(-1.12,-0.43),(-1.2,-0.53),(-0.9,-0.6),(-6.05,-0.6),(-2.13,-0.5),(-1.98,-0.55),(-1.75,-0.5),(-3.8,-0.6),(0.33,-0.52),(0.25,-0.63),(0.38,-0.62),(0.85,-0.55),(-5.45,-0.67),(-5.38,-0.68),(-4.98,-0.65),(-3.97,-0.68),(-2.5,-0.69),(-1.75,-0.62),(-0.5,-0.7),(0.55,-0.74),(0.6,-0.76),
 (-5.13,-0.77),(-5.05,-0.85),(-5.0,-0.83),(-4.98,-0.8),(-5.2,-0.9),(-4.45,-0.9),(-2.22,-0.88),(-2.0,-0.77),(-1.3,-0.95),(-1.27,-0.88),(-1.1,-0.8),(-0.8,-0.95),(-0.47,-0.82),(-0.02,-0.88),(0.0,-0.78),(0.03,-0.85),(0.55,-0.85),(-5.38,-1.07),(-4.9,-1.09),(-3.93,-1.01),(-2.27,-1.12),(-1.35,-1.22),(-0.72,-1.19),(-0.48,-1.27),(0.08,-1.2),(0.3,-1.07),(0.5,-1.13),(0.8,-1.3),(0.85,-1.42),
 (-4.45,-1.34),(-5.3,-1.38),(-2.7,-1.41),(-2.24,-1.38),(-2.2,-1.42),(-1.28,-1.28),(-1.13,-1.43),(-6.27,-1.48),(-6.12,-1.47),(-3.72,-1.52),(-3.65,-1.51),(-3.28,-1.55),(-3.03,-1.55),(-1.18,-1.53),(-0.6,-1.52),(0.2,-1.47),(0.28,-1.5),(-3.4,-1.76),(-4.33,-1.72),(-4.95,-1.74),(-5.98,-1.78),(-2.25,-1.77),(-1.72,-1.7),(-1.71,-1.74),(-0.95,-1.73),(-0.8,-1.83),(-0.75,-1.8),(-0.65,-1.77),(-0.45,-1.76),(-0.25,-1.73),(-0.1,-1.76),(-0.05,-1.8),
 (-5.58,-1.88),(-5.2,-1.84),(-2.75,-1.86),(-1.46,-1.8),(-1.17,-1.83),(-0.95,-1.9),(-0.8,-1.92),(-0.6,-1.88),(-0.45,-1.78),(-0.03,-1.85),(0.17,-1.9),(0.27,-1.92),(0.28,-1.97),(-6.28,-2.08),(-5.65,-2.13),(-5.5,-2.15),(-1.93,-1.98),(-0.43,-2.05),(-4.0,-2.15),(-3.97,-2.15),(-3.45,-2.2),(-3.33,-2.24),(-2.95,-2.13),(-1.47,-2.23),(-4.2,-2.22),(-2.46,-2.27),(-2.27,-2.31),(-2.27,-2.37),(-0.58,-2.28),(0.42,-2.42),
 (-5.45,-2.35),(-4.87,-2.35),(-3.83,-2.26),(-3.15,-2.43),(-3.03,-2.35),(-2.9,-2.53),(-2.25,-2.43),(-1.9,-2.37),(-0.9,-2.33),(0.27,-2.5),(0.55,-2.43),(-5.58,-2.73),(-3.98,-2.67),(-3.8,-2.63),(-1.75,-2.55),(-1.42,-2.7),(-0.6,-2.7),(-0.95,-2.95),(0.32,-2.75),(-4.58,-2.84),(-3.2,-2.76),(-3.15,-2.87),(-2.2,-2.82),(-2.2,-2.9),(-1.92,-3.02),(-5.45,-3.05),(-4.1,-3.05)]
p4_open = [(-0.92,4.52),(-3.95,4.44),(-2.98,4.38),(-1.2,3.87),(-1.53,3.76),(-1.62,3.62),(-3.45,3.84),(-3.0,3.83),(-5.2,3.67),(-2.25,3.36),(-1.17,3.36),(-5.27,3.07),(-0.9,3.03),(-0.57,2.93),(-4.4,2.86),(-3.87,2.87),(-0.68,2.58),(-5.43,2.47),(-6.48,2.35),(-6.33,2.36),(-6.03,2.25),(-5.7,2.18),(-0.55,2.17),(-1.03,2.1),(-0.55,2.09),(-1.0,1.89),(-0.65,1.97),(-4.14,2.11),(-5.47,1.98),(-5.3,1.76),(-5.42,1.7),(-5.6,1.61),(-5.05,1.78),(-4.83,1.67),(-4.22,1.6),(-4.2,1.45),(-4.03,1.36),(-2.6,1.62),(-2.36,1.51),(-0.5,1.67),(0.02,1.79),(-0.88,1.55),(-1.0,1.47),(-5.78,1.5),(-5.93,1.38),(-5.25,1.51),(-5.2,1.52),(0.37,1.45),(0.3,1.28),(-1.96,1.03),(-5.05,0.68),(-0.03,0.8),(-0.45,0.48),(-1.9,0.26),(-2.17,-0.07),(-5.17,-0.03),(-4.95,-0.45),(-2.4,-0.39),(0.2,-0.05),(-0.12,-0.43),(0.63,-0.62),(1.02,-0.77),(-1.09,-0.73),(0.09,-0.96),(-4.25,-1.24),(-1.33,-1.57),(0.77,-1.7),(0.95,-1.65),(1.0,-1.82),(-0.62,-1.92),(-1.71,-2.47),(-0.1,-2.5),(-2.14,-2.69),(-0.77,-2.71),(-3.18,-2.74),(-5.17,-3.0)]
p4_red = [(-4.5,4.37),(-3.45,4.14),(-0.45,3.9),(-0.33,3.33),(-2.9,2.3),(-0.63,2.11),(-0.72,1.43),(-4.15,1.24),(-1.82,0.8),(0.15,0.06),(-0.02,-0.02),(-0.02,0.0),(-1.72,-0.37),(-1.85,-0.64),(-0.02,-0.62),(-6.33,-0.61),(-5.98,-0.82),(-4.65,-1.14),(-2.0,-1.14),(-2.03,-1.36),(1.12,-1.2),(0.47,-2.17),(-2.38,-2.59)]

p5_black = [(-4.07,2.55),(-3.04,2.58),(-0.6,2.53),(-0.53,2.58),(-0.2,2.6),(-0.1,2.41),(0.55,2.45),(1.2,2.64),(1.25,2.42),(1.64,2.39),(2.3,2.45),(-3.8,2.25),(-3.6,2.25),(-4.3,2.22),(-1.17,2.3),(-1.1,2.2),(0.38,2.27),(1.9,2.25),(2.13,2.27),(2.2,2.2),(2.33,2.2),(2.53,2.15),(2.65,2.1),(2.0,2.2),(1.15,2.13),
 (-2.6,2.25),(-2.58,2.03),(-2.53,2.0),(-2.43,2.1),(-1.4,2.1),(-2.28,1.94),(-4.0,2.0),(-3.9,1.97),(-3.83,1.96),(-3.75,1.97),(-4.47,1.9),(-2.25,1.72),(-1.93,1.74),(-1.13,1.71),(-0.02,1.65),(0.0,1.62),(1.7,1.76),(1.85,1.73),(1.85,1.87),(0.7,1.72),(2.13,1.76),(2.37,1.78),(2.25,1.9),(2.3,1.88),(1.52,2.0),(2.62,1.65),(2.85,1.6),
 (-4.08,1.68),(-3.95,1.5),(-1.7,1.53),(-0.12,1.41),(-0.75,1.41),(-0.55,1.42),(-1.5,1.38),(0.5,1.46),(0.58,1.45),(0.62,1.3),(1.2,1.28),(1.45,1.3),(1.6,1.42),(-3.93,1.21),(-4.1,1.1),(-2.77,1.17),(-2.55,1.14),(-1.95,1.2),(-1.65,1.23),(-1.63,1.14),(-1.18,1.29),(-1.52,1.08),(-3.63,1.05),(0.43,1.13),(1.47,1.1),(1.83,1.02),(1.92,1.07),(2.3,1.13),(2.45,1.14),(2.75,1.2),(2.8,1.15),(2.78,1.1),
 (-0.8,1.0),(-1.1,0.97),(0.93,1.03),(-2.13,0.81),(-2.75,0.78),(0.5,0.81),(0.27,0.75),(-0.2,0.73),(2.25,0.85),(2.33,0.8),(2.4,1.0),(2.5,0.97),(2.45,0.93),(2.47,0.9),(2.55,0.92),(2.57,0.95),(2.7,0.91),(2.56,0.73),(2.4,0.63),(2.45,0.65),(1.55,0.68),(1.6,0.7),(1.97,0.64),(-0.9,0.68),(-0.6,0.68),(-0.52,0.58),(1.03,0.6),(1.06,0.6),
 (0.28,0.58),(-2.16,0.47),(-1.87,0.52),(-0.45,0.4),(0.42,0.48),(-4.1,0.43),(-2.53,0.57),(0.4,0.35),(1.35,0.3),(1.57,0.33),(1.7,0.4),(2.03,0.35),(-0.63,0.27),(-0.47,0.19),(-0.27,0.22),(-0.45,0.12),(-0.33,0.08),(-2.77,0.22),(-2.73,0.2),(-2.55,0.17),(-4.55,0.2),(-1.52,0.18),(-1.33,0.18),(-1.27,0.12),(-0.25,0.14),(0.4,0.16),(1.42,0.2),(2.3,0.28),(0.05,0.03),
 (-2.13,0.1),(-3.0,0.07),(-1.57,0.05),(-1.25,0.03),(-0.9,0.05),(-0.73,0.04),(-3.5,0.03),(-3.57,0.03),(-3.6,0.02),(0.3,0.06),(1.5,0.02),(2.63,0.02),(-1.47,-0.07),(-1.28,-0.07),(-3.55,-0.09),(-1.53,-0.17),(2.25,-0.02),(-3.28,-0.23),(-3.43,-0.27),(-2.05,-0.4),(-0.75,-0.26),(-0.5,-0.3),(-0.28,-0.15),(1.05,-0.12),(1.6,-0.05),(1.78,-0.27),(2.1,-0.18),(2.7,-0.3),
 (-3.3,-0.33),(-3.17,-0.45),(-3.15,-0.5),(-3.1,-0.54),(-3.03,-0.57),(-2.95,-0.6),(-1.7,-0.42),(-1.83,-0.47),(-1.95,-0.37),(-1.23,-0.35),(0.18,-0.35),(0.2,-0.34),(0.8,-0.53),(0.88,-0.5),(0.97,-0.55),(1.02,-0.6),(1.07,-0.68),(1.18,-0.65),(1.45,-0.67),(-3.75,-0.45),(-1.58,-0.62),(-1.53,-0.57),(-1.48,-0.55),(-0.27,-0.77),(0.07,-0.63),(0.04,-0.64),(0.5,-0.76),(0.62,-0.73),(1.0,-0.7),(1.08,-0.62),(1.3,-0.68),(1.55,-0.6),(1.65,-0.55),(1.7,-0.69),(1.8,-0.71),
 (-2.9,-0.6),(-2.85,-0.7),(-3.05,-0.82),(-2.67,-0.63),(-3.5,-0.72),(-1.85,-0.62),(1.85,-0.77),(2.02,-0.76),(2.25,-0.77),(2.3,-0.75),(2.4,-0.68),(2.33,-0.65),(2.6,-0.77),(2.77,-0.78),(2.85,-0.68),(-3.8,-0.85),(-3.4,-0.9),(-2.67,-0.83),(-1.57,-0.88),(-1.25,-0.77),(1.45,-0.9),(1.55,-0.9),(1.62,-0.87),(-4.05,-1.0),(-3.9,-1.0),(-3.12,-1.02),(-3.0,-1.0),(-2.55,-1.03),(-2.15,-0.96),(-1.73,-0.95),(-2.08,-0.83),(-2.03,-0.83),
 (-1.73,-1.03),(1.05,-1.03),(2.0,-1.02),(2.1,-1.12),(2.14,-1.1),(-4.4,-1.16),(-2.75,-1.16),(-1.85,-1.25),(-1.75,-1.25),(-1.58,-1.33),(-0.48,-1.31),(-0.27,-1.32),(0.1,-1.18),(0.38,-1.07),(0.58,-1.2),(0.71,-1.3),(1.08,-1.37),(1.27,-1.28),(1.33,-1.34),(2.1,-1.3),(2.35,-1.25),(2.38,-1.4),(2.62,-1.3),(-4.33,-1.37),(-2.43,-1.3),(-2.65,-1.44),(-2.5,-1.55),
 (-0.22,-1.38),(-0.2,-1.42),(0.65,-1.45),(0.72,-1.54),(0.76,-1.6),(1.28,-1.55),(-3.7,-1.52),(-3.77,-1.56),(-4.6,-1.6),(-3.55,-1.56),(-2.97,-1.53),(-1.25,-1.6),(-1.35,-1.62),(-1.53,-1.72),(-1.87,-1.65),(-1.95,-1.75),(-1.75,-1.7),(-1.42,-1.7),(-2.25,-1.7),(1.38,-1.68),(1.42,-1.74),(2.08,-1.63),(1.5,-1.8),(-3.8,-1.78),(-2.97,-1.84),(-2.55,-1.82),(-2.25,-1.87),(-0.1,-1.8),(0.36,-1.95),(1.0,-1.85),(1.12,-1.88),(1.72,-1.83),(1.97,-1.84),(2.02,-1.9),
 (-4.08,-1.89),(-3.06,-2.05),(-3.0,-2.05),(-2.68,-2.0),(-2.6,-2.05),(-2.38,-2.07),(-1.9,-2.07),(-1.75,-2.12),(-0.68,-2.03),(-0.6,-2.06),(1.97,-2.08),(2.03,-2.18),(2.3,-2.05),(-4.35,-2.26),(-4.3,-2.26),(-4.55,-2.36),(-4.63,-2.42),(-3.5,-2.1),(-3.53,-2.23),(-2.83,-2.2),(-2.7,-2.17),(-2.65,-2.35),(-2.3,-2.37),(-1.6,-2.33),(-0.8,-2.3),(1.1,-2.18),(1.3,-2.28),(2.4,-2.28),(2.72,-2.24),
 (-4.1,-2.58),(-2.38,-2.62),(-2.32,-2.67),(-2.25,-2.6),(-2.13,-2.5),(-2.05,-2.6),(-2.1,-2.66),(-1.95,-2.65),(-1.75,-2.48),(-0.4,-2.44),(-0.15,-2.42),(1.6,-2.48),(1.55,-2.52),(2.44,-2.55),(-4.27,-2.67),(-2.5,-2.8),(-2.12,-2.68),(-1.58,-2.68),(-1.2,-2.65),(-0.65,-2.65),(0.33,-2.63),(0.43,-2.63),(0.48,-2.67),(0.15,-2.72),(-0.28,-2.8),(2.2,-2.73),
 (-4.05,-2.8),(-4.05,-2.86),(-3.8,-2.9),(-3.5,-2.9),(-2.95,-2.93),(-1.66,-2.93),(-0.55,-2.82),(0.38,-3.0),(-4.45,-2.94),(-4.3,-3.03),(-3.6,-3.08),(-2.77,-3.13),(-1.65,-3.13),(-1.04,-2.98),(-0.75,-3.05),(2.5,-3.0),(-4.47,-3.18),(-0.95,-3.22),(-0.32,-3.22),(2.6,-3.18),(-1.87,-3.28),(-1.83,-3.35),(-2.6,-3.33),(-3.17,-3.33),(0.58,-3.35),(0.82,-3.4),
 (1.45,-3.38),(-2.9,-3.48),(-3.83,-3.6),(-4.35,-3.55),(-4.6,-3.65),(-1.9,-3.55),(-1.12,-3.6),(-0.98,-3.58),(-0.22,-3.6),(0.1,-3.57),(0.11,-3.64),(0.5,-3.53),(1.55,-3.55),(1.78,-3.5),(1.88,-3.6),(2.1,-3.5),(2.27,-3.5),(2.45,-3.6),(-2.2,-3.65),(-2.58,-3.4),(-4.33,-3.75),(-0.0,-3.6),(0.39,-3.73),(0.4,-3.8),(1.0,-3.8),
 (-3.05,-3.88),(-2.68,-3.88),(-2.45,-3.87),(-2.13,-3.93),(-2.15,-3.97),(-1.53,-4.03),(-1.2,-3.97),(-0.9,-4.08),(-0.72,-4.05),(0.83,-4.0),(1.07,-4.05),(1.8,-4.06),(-3.4,-3.93),(-3.45,-4.1),(-3.52,-4.12),(-3.62,-4.15),(-4.0,-4.1),(0.38,-4.15),(1.0,-4.2),(1.08,-4.17),(2.03,-4.07),(2.1,-4.07),(2.27,-4.2),(1.95,-4.2),(2.05,-4.18),(2.6,-4.2),
 (-2.9,-4.3),(-2.44,-4.22),(-2.33,-4.37),(-2.2,-4.32),(-1.55,-4.22),(0.05,-4.27),(0.25,-4.37),(1.9,-4.33),(2.53,-4.38),(-1.55,-4.43),(1.95,-4.45),(1.98,-4.52),(-2.95,-4.53),(-2.77,-4.55),(1.78,-4.55),(1.7,-4.54),(1.97,-4.62),(2.9,-4.45),(-4.0,-4.65),(-3.5,-4.65),(-1.56,-4.65),(-1.37,-4.65)]
p5_open = [(-3.3,2.44),(2.63,2.24),(1.05,1.59),(1.4,1.5),(1.97,1.44),(0.88,1.31),(1.75,1.17),(-4.0,1.14),(-2.96,0.91),(-2.62,0.6),(1.04,0.56),(0.28,0.49),(-4.17,0.31),(2.0,0.35),(-2.0,0.26),(-2.68,0.08),(1.45,0.13),(0.02,0.02),(-2.85,-0.2),(-2.13,-0.26),(-2.13,-0.36),(1.15,-0.29),(1.04,-0.45),(2.42,-0.45),(-3.83,-0.62),(-3.55,-0.81),(-2.55,-0.76),(-3.0,-0.97),(0.42,-1.26),(1.33,-1.53),(-2.9,-1.6),(-1.67,-1.8),(-0.23,-1.81),(1.1,-1.9),(1.5,-2.13),(-4.37,-2.13),(-4.13,-2.12),(-4.17,-2.33),(0.51,-2.76),(0.62,-2.91),(0.39,-3.0),(2.17,-2.85),(0.13,-3.27),(-3.32,-3.43),(1.5,-3.58),(-0.73,-3.97),(2.1,-3.82),(2.27,-3.97),(-2.44,-4.27),(2.52,-4.53)]
p5_red = [(-1.82,1.97),(1.67,2.28),(2.28,1.72),(1.87,1.54),(-0.15,1.55),(0.37,1.07),(-2.62,0.67),(-0.24,0.08),(-1.02,-0.23),(1.77,-0.12),(0.53,-1.69),(2.6,-2.11),(0.1,-2.28),(1.5,-2.28),(-0.46,-2.63),(2.42,-3.26),(-1.43,-4.24),(0.52,-4.15),(0.74,-4.37),(1.62,-4.37),(1.8,-4.4)]

p6_black = [(1.06,4.33),(0.94,4.32),(1.77,4.43),(1.76,4.33),(1.75,4.26),(-2.74,4.25),(-1.83,4.23),(-0.2,4.37),(3.7,4.38),(3.72,4.28),(3.7,4.2),(2.72,4.2),(2.13,4.13),(3.17,4.12),(-0.12,4.17),(0.63,4.06),(0.63,4.1),(0.8,4.14),(0.79,4.18),(1.4,4.03),(1.63,4.08),(2.71,4.03),(3.34,4.04),(3.8,3.98),(4.03,4.02),(4.2,3.97),
 (-2.03,4.05),(-1.14,3.98),(-0.28,4.02),(-0.34,3.98),(-0.42,3.96),(-2.53,3.9),(-1.38,3.83),(-1.16,3.75),(-0.68,3.8),(0.2,3.85),(0.75,3.93),(1.02,3.83),(3.07,3.8),(3.12,3.8),(3.3,3.84),(3.34,3.78),(3.68,3.75),(4.3,3.78),(4.43,3.72),(2.43,3.7),(1.92,3.75),(0.77,3.72),(3.0,3.73),(2.6,3.82),
 (-2.76,3.74),(-2.75,3.7),(-2.78,3.68),(-2.9,3.67),(-2.45,3.73),(-2.4,3.63),(-0.27,3.65),(-0.8,3.59),(-0.75,3.43),(-0.08,3.5),(0.34,3.52),(0.57,3.46),(0.7,3.4),(3.25,3.56),(3.33,3.57),(-2.3,3.4),(-2.43,3.28),(-2.78,3.25),(-2.96,3.05),(0.32,3.32),(0.7,3.25),(1.24,3.33),(1.05,3.2),(1.1,3.17),(1.2,3.14),(0.92,3.05),(1.65,3.18),(1.9,3.27),(2.66,3.17),(2.74,3.2),(2.9,3.25),(3.65,3.27),(3.88,3.02),(4.23,3.15),
 (-2.03,2.9),(-1.8,2.82),(-1.73,2.93),(-1.6,2.97),(1.45,3.0),(1.47,2.97),(1.53,2.97),(1.72,2.97),(1.95,3.02),(2.06,3.03),(2.24,3.02),(1.97,2.9),(2.0,2.8),(2.72,2.83),(3.55,3.05),(3.58,2.87),(3.65,2.8),(-0.12,2.74),(1.63,2.62),(2.39,2.65),(2.4,2.57),(2.86,2.7),(3.7,2.6),(-1.88,2.55),(-1.78,2.43),(1.24,2.55),(0.47,2.51),(3.36,2.55),(3.33,2.45),(4.0,2.5),(4.03,2.42),(4.43,2.44),
 (-1.3,2.33),(-1.78,2.24),(-1.7,2.2),(-1.2,2.19),(0.23,2.44),(3.6,2.15),(4.02,2.25),(4.07,2.25),(-0.8,2.08),(-0.35,2.05),(0.65,2.04),(0.2,1.97),(0.25,1.98),(0.3,2.0),(-0.85,1.92),(4.08,1.9),(4.2,1.84),(4.25,1.86),(2.7,1.95),(2.7,1.88),(2.72,1.87),(3.37,2.0),(4.4,1.84),(4.4,1.8),(2.27,1.85),(1.65,1.85),(1.75,1.88),(1.8,1.8),(1.95,1.75),
 (-0.4,1.85),(-0.2,1.83),(-1.3,1.8),(0.08,1.8),(0.37,1.77),(0.65,1.72),(-0.02,1.7),(-2.23,1.72),(-2.06,1.72),(-1.97,1.72),(-2.33,1.66),(-2.82,1.55),(1.13,1.61),(1.2,1.7),(2.13,1.53),(1.83,1.48),(1.42,1.47),(2.8,1.5),(-0.85,1.22),(-2.58,1.45),(-2.48,1.43),(-1.05,1.33),(-2.17,1.35),(0.83,1.43),(1.42,1.32),(1.72,1.28),(3.6,1.28),(3.65,1.25),
 (-2.45,1.2),(-2.33,1.12),(-2.93,1.1),(-2.45,1.0),(-2.18,1.2),(-1.1,1.25),(-1.1,1.15),(-0.85,1.17),(-0.7,1.22),(0.55,1.14),(0.58,1.15),(0.7,1.1),(1.05,1.05),(1.5,1.05),(2.47,1.08),(3.07,1.05),(4.4,1.37),(4.35,1.53),(3.58,0.95),(3.55,0.97),(-1.38,1.07),(-2.48,0.9),(-2.43,0.9),(-1.38,0.85),(-2.06,0.85),(-2.42,0.75),(0.95,0.9),(1.15,0.97),(1.2,0.97),(1.72,0.83),(2.63,0.84),(2.85,0.92),(2.94,0.85),(3.18,0.79),(3.9,0.85),(3.87,0.8),
 (-2.7,0.67),(-1.72,0.72),(-1.13,0.7),(-0.78,0.8),(-0.65,0.83),(0.29,0.74),(0.15,0.61),(1.1,0.73),(3.6,0.72),(2.1,0.7),(2.14,0.68),(2.84,0.68),(4.16,0.78),(-2.58,0.63),(-2.57,0.55),(-1.22,0.5),(-1.16,0.5),(-0.44,0.52),(-0.12,0.49),(1.18,0.5),(2.56,0.53),(2.77,0.58),(1.99,0.52),(3.8,0.55),(3.22,0.4),(-2.4,0.33),(-2.38,0.4),(-2.2,0.4),(-2.13,0.36),(-1.43,0.4),(1.4,0.39),
 (0.04,0.4),(0.56,0.28),(0.7,0.28),(2.13,0.28),(-2.96,0.25),(-2.42,0.25),(-2.8,0.2),(-1.24,0.22),(-1.27,0.2),(-0.67,0.3),(-0.05,0.21),(-1.05,0.1),(-1.0,0.13),(-1.05,0.05),(-0.92,0.11),(1.25,0.19),(1.45,0.1),(-2.8,0.03),(-2.13,0.0),(-2.0,0.0),(-0.69,-0.07),(0.02,0.2),(0.82,0.05),(0.98,0.08),(2.77,0.13),(3.0,-0.02),(3.07,0.0),(3.22,0.0),(3.65,0.07),(0.87,-0.01),
 (-3.06,-0.18),(-1.33,-0.13),(-1.3,-0.1),(-1.07,-0.1),(-0.58,-0.17),(-0.46,-0.18),(-0.35,-0.09),(0.2,-0.22),(0.33,-0.18),(0.97,-0.13),(1.48,-0.17),(1.52,-0.15),(1.8,-0.1),(1.95,-0.13),(2.07,-0.1),(2.65,-0.2),(4.2,-0.13),(4.25,-0.15),(3.4,-0.23),(-1.8,-0.27),(-1.77,-0.37),(-2.48,-0.26),(-1.87,-0.3),(0.95,-0.3),(0.9,-0.38),(-2.83,-0.39),(-1.65,-0.4),(-1.78,-0.47),(-0.03,-0.41),(1.5,-0.43),(1.6,-0.43),(1.96,-0.38),(2.0,-0.36),(2.43,-0.35),(2.5,-0.4),(2.55,-0.44),(3.47,-0.36),(3.85,-0.38),(4.0,-0.33),(4.28,-0.37),
 (-1.62,-0.5),(-1.43,-0.57),(-2.4,-0.6),(-2.62,-0.6),(-2.77,-0.66),(-1.1,-0.49),(-0.58,-0.56),(0.33,-0.6),(0.72,-0.66),(2.33,-0.66),(2.38,-0.7),(3.62,-0.49),(3.9,-0.59),(-2.52,-0.73),(-0.7,-0.65),(-0.2,-0.72),(-1.2,-0.8),(-2.77,-0.83),(-2.57,-0.85),(-1.5,-0.9),(-1.17,-0.9),(-1.18,-0.93),(-0.45,-0.78),(-0.23,-0.88),(0.12,-0.85),(2.28,-0.76),(2.78,-0.78),(3.75,-0.88),
 (-2.92,-1.12),(-1.85,-1.03),(-1.35,-1.08),(-1.05,-1.15),(-1.02,-1.17),(-0.58,-1.07),(0.42,-1.13),(0.5,-1.03),(1.72,-1.02),(1.97,-1.08),(2.79,-1.1),(3.33,-1.15),(3.6,-1.05),(3.73,-1.1),(4.3,-0.95),(4.23,-0.98),(-1.43,-1.2),(-1.48,-1.29),(-1.63,-1.3),(-1.75,-1.34),(-1.68,-1.38),(-1.55,-1.45),(-1.58,-1.45),(-2.2,-1.35),(-2.05,-1.35),(-1.17,-1.3),(-0.19,-1.24),(0.09,-1.23),(0.82,-1.26),(1.42,-1.23),(1.88,-1.25),(2.78,-1.22),
 (-0.8,-1.3),(-0.65,-1.35),(-0.92,-1.45),(-1.02,-1.5),(-0.97,-1.58),(-0.78,-1.5),(-0.7,-1.48),(0.06,-1.48),(0.14,-1.55),(1.48,-1.45),(1.48,-1.55),(2.0,-1.5),(2.23,-1.48),(3.18,-1.38),(3.35,-1.43),(3.5,-1.43),(3.72,-1.6),(3.97,-1.38),(4.4,-1.55),(4.45,-1.63),(-2.82,-1.52),(-1.07,-1.75),(-0.85,-1.77),(0.2,-1.67),(1.68,-1.6),(1.78,-1.55),(2.45,-1.6),(2.5,-1.65),(2.68,-1.67),(3.02,-1.72),(3.35,-1.7),(3.93,-1.6),
 (-2.45,-1.7),(-2.55,-1.82),(-2.07,-1.7),(-2.11,-1.85),(-1.68,-1.82),(-1.46,-1.9),(-0.52,-1.86),(0.03,-1.87),(1.38,-1.77),(2.12,-1.74),(2.17,-1.75),(2.47,-1.75),(0.75,-1.86),(1.03,-1.88),(2.68,-1.97),(3.6,-1.88),(3.65,-1.97),(3.8,-1.92),(3.87,-1.9),(3.98,-2.02),(-3.08,-2.02),(-1.18,-1.96),(-1.13,-2.05),(-0.47,-2.09),(3.03,-2.05),(2.98,-2.15),(3.1,-2.22),(3.33,-2.2),
 (-2.46,-2.15),(-1.0,-2.21),(0.02,-2.2),(0.15,-2.15),(1.02,-2.2),(1.67,-2.26),(-1.62,-2.35),(-1.6,-2.4),(-0.28,-2.3),(0.7,-2.35),(0.75,-2.33),(1.38,-2.3),(2.35,-2.27),(2.62,-2.38),(3.2,-2.4),(-2.7,-2.46),(-2.43,-2.55),(-2.05,-2.48),(-0.27,-2.45),(0.98,-2.5),(1.17,-2.6),(1.9,-2.5),(2.35,-2.4),(3.37,-2.56),(3.22,-2.67),
 (-2.3,-2.72),(-1.39,-2.7),(0.15,-2.73),(1.55,-2.67),(1.7,-2.67),(1.55,-2.75),(0.77,-2.73),(2.02,-2.67),(2.43,-2.7),(-0.3,-2.82),(-0.17,-2.85),(0.15,-2.85),(1.82,-2.84),(2.5,-2.85),(2.55,-2.9),(-0.78,-2.87),(-1.54,-2.92),(-1.4,-2.92),(-2.33,-2.95),(-0.8,-3.0),(-0.78,-3.05),(2.03,-2.93),(2.28,-2.95),(3.2,-2.97),(3.9,-2.88),(-0.98,-3.07),(2.05,-3.07),(3.02,-3.05),(3.23,-3.08),(3.77,-3.14)]
p6_open = [(1.06,4.2),(0.32,3.99),(3.73,3.99),(-0.68,3.73),(2.28,3.63),(-0.06,3.43),(4.08,3.15),(2.52,3.0),(4.17,2.84),(4.4,2.84),(2.07,2.75),(0.77,2.42),(4.0,2.27),(3.3,2.31),(3.87,2.12),(2.12,1.92),(3.73,1.4),(4.3,1.44),(4.2,1.07),(-2.85,0.99),(-2.18,1.0),(-1.8,1.0),(2.58,0.99),(3.73,0.65),(-1.46,0.49),(0.2,0.34),(-0.37,0.27),(1.57,0.22),(-2.85,-0.09),(0.75,-0.29),(-0.2,-0.31),(-2.4,-0.43),(0.87,-0.6),(3.17,-0.39),(3.45,-0.62),(2.93,-0.94),(-2.52,-1.07),(-2.18,-1.06),(-0.93,-0.98),(1.02,-1.46),(0.84,-1.8),(2.5,-2.24),(2.43,-2.47),(-0.63,-2.51),(1.83,-2.68),(2.13,-2.68),(-1.1,-2.92),(-2.78,-3.02),(3.4,-3.0),(4.28,-3.0)]
p6_red = [(-1.63,3.69),(0.65,2.47),(4.26,2.94),(3.34,1.91),(-0.26,1.3),(-0.33,1.21),(1.28,0.7),(4.17,0.61),(-0.3,0.41),(0.25,-0.55),(-2.27,-0.66),(0.45,-1.71),(1.85,-2.6),(0.79,-2.82),(2.1,-2.85)]

# axis limits, per panel
xlims = [(-3.2, 4.7), (-2.19, 5.76), (-2.63, 5.29), (-6.66, 1.33), (-4.78, 3.05), (-3.27, 4.65)]
ylims = [(-3.24, 4.63), (-3.3, 4.68), (-4.89, 3.12), (-3.26, 4.77), (-4.83, 2.84), (-3.33, 4.6)]

blacks = [p1_black, p2_black, p3_black, p4_black, p5_black, p6_black]
opens = [p1_open, p2_open, p3_open, p4_open, p5_open, p6_open]
reds = [p1_red, p2_red, p3_red, p4_red, p5_red, p6_red]

W, H = 1368, 906
lefts = [49, 513, 977, 49, 513, 977]
tops = [25, 25, 25, 487, 487, 487]
size = 367

grey = '#555555'
red = '#ee2a2e'

fig = plt.figure(figsize=(W / 100, H / 100), dpi=100)

for i in range(6):
    ax = fig.add_axes([lefts[i] / W, 1 - (tops[i] + size) / H, size / W, size / H])

    # 1.8 arcmin circle round the radio galaxy
    circle = plt.Circle((0, 0), 1.8, fill=False, color='black', lw=1.1, ls=(0, (1, 4)), zorder=1)
    ax.add_patch(circle)
    ax.scatter([0], [0], marker='*', s=440, facecolor='#f8e71c', edgecolor='black', linewidth=0.8, zorder=2)

    bx, by = zip(*blacks[i])
    ax.scatter(bx, by, s=17, color='#141414', linewidth=0, zorder=3)
    ox, oy = zip(*opens[i])
    ax.scatter(ox, oy, s=62, facecolor='none', edgecolor=red, linewidth=0.95, zorder=4)
    rx, ry = zip(*reds[i])
    ax.scatter(rx, ry, s=62, color=red, linewidth=0, zorder=5)

    ax.set_xlim(xlims[i])
    ax.set_ylim(ylims[i])
    ax.xaxis.set_major_locator(MultipleLocator(2))
    ax.yaxis.set_major_locator(MultipleLocator(2))
    ax.xaxis.set_minor_locator(MultipleLocator(0.5))
    ax.yaxis.set_minor_locator(MultipleLocator(0.5))
    ax.tick_params(which='major', direction='in', top=True, right=True, length=6, width=0.8, color='#333333',
                   labelsize=12, labelcolor=grey, pad=8)
    ax.tick_params(which='minor', direction='in', top=True, right=True, length=3, width=0.6, color='#333333')
    for side in ax.spines.values():
        side.set_linewidth(1.0)
        side.set_color('#333333')

    ax.set_title(names[i], fontsize=13.5, color='#444444', pad=5)
    ax.set_xlabel('arcmins', fontsize=11, color=grey, labelpad=7)
    ax.set_ylabel('arcmins', fontsize=11, color=grey, labelpad=3)

fig.savefig('out.png', dpi=100)
